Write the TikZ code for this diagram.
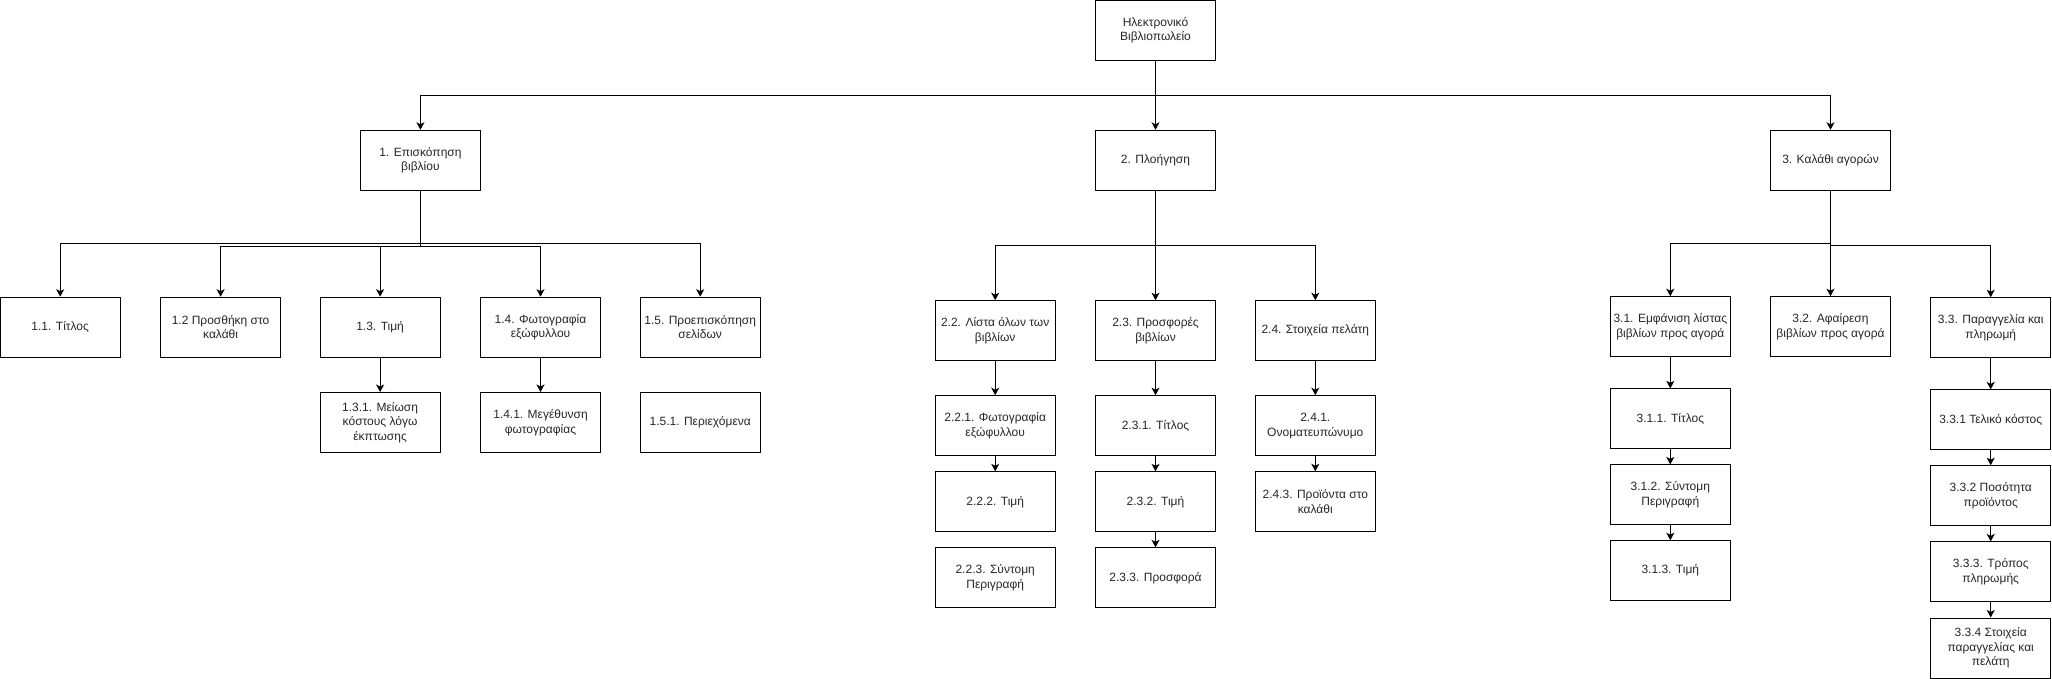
\documentclass[tikz,border=0pt]{standalone}
\usepackage{fontspec}
\setmainfont{Liberation Sans}
\usetikzlibrary{arrows.meta}
\tikzset{
  box/.style={draw=black, line width=1pt, minimum width=120pt, minimum height=60pt,
    inner sep=0pt, align=center, font=\fontsize{12}{14.6}\selectfont, text=black!85},
  conn/.style={draw=black, line width=1pt, -{Stealth[length=7.5pt,width=8pt,inset=2pt]}}
}
\begin{document}
\begin{tikzpicture}[x=1pt, y=-1pt]
\useasboundingbox (0,0) rectangle (2052,679);
% level 0 / 1
\node[box] (top) at (1155.5,30.4) {Ηλεκτρονικό\\Βιβλιοπωλείο};
\node[box] (b1) at (420.4,160.3) {1. Επισκόπηση\\βιβλίου};
\node[box] (b2) at (1155.5,160.3) {2. Πλοήγηση};
\node[box] (b3) at (1830.5,160.3) {3. Καλάθι αγορών};
% group 1
\node[box] (b11) at (60.2,327.2) {1.1. Τίτλος};
\node[box] (b12) at (220.6,327.2) {1.2 Προσθήκη στο\\καλάθι};
\node[box] (b13) at (380.1,327.2) {1.3. Τιμή};
\node[box] (b14) at (540.5,327.2) {1.4. Φωτογραφία\\εξώφυλλου};
\node[box] (b15) at (700.2,327.2) {1.5. Προεπισκόπηση\\σελίδων};
\node[box] (b131) at (380.1,422.5) {1.3.1. Μείωση\\κόστους λόγω\\έκπτωσης};
\node[box] (b141) at (540.5,422.5) {1.4.1. Μεγέθυνση\\φωτογραφίας};
\node[box] (b151) at (700.2,422.5) {1.5.1. Περιεχόμενα};
% group 2
\node[box] (b22) at (995.2,330.7) {2.2. Λίστα όλων των\\βιβλίων};
\node[box] (b23) at (1155.5,330.7) {2.3. Προσφορές\\βιβλίων};
\node[box] (b24) at (1315.3,330.7) {2.4. Στοιχεία πελάτη};
\node[box] (b221) at (995.2,425.7) {2.2.1. Φωτογραφία\\εξώφυλλου};
\node[box] (b222) at (995.2,501.8) {2.2.2. Τιμή};
\node[box] (b223) at (995.2,577.8) {2.2.3. Σύντομη\\Περιγραφή};
\node[box] (b231) at (1155.5,425.7) {2.3.1. Τίτλος};
\node[box] (b232) at (1155.5,501.8) {2.3.2. Τιμή};
\node[box] (b233) at (1155.5,577.8) {2.3.3. Προσφορά};
\node[box] (b241) at (1315.3,425.7) {2.4.1.\\Ονοματευπώνυμο};
\node[box] (b243) at (1315.3,501.8) {2.4.3. Προϊόντα στο\\καλάθι};
% group 3
\node[box] (b31) at (1670.3,326.7) {3.1. Εμφάνιση λίστας\\βιβλίων προς αγορά};
\node[box] (b32) at (1830.5,326.7) {3.2. Αφαίρεση\\βιβλίων προς αγορά};
\node[box] (b33) at (1990.7,327.7) {3.3. Παραγγελία και\\πληρωμή};
\node[box] (b311) at (1670.3,418.9) {3.1.1. Τίτλος};
\node[box] (b312) at (1670.3,494.9) {3.1.2. Σύντομη\\Περιγραφή};
\node[box] (b313) at (1670.3,570.7) {3.1.3. Τιμή};
\node[box] (b331) at (1990.7,419.9) {3.3.1 Τελικό κόστος};
\node[box] (b332) at (1990.7,495.7) {3.3.2 Ποσότητα\\προϊόντος};
\node[box] (b333) at (1990.7,571.9) {3.3.3. Τρόπος\\πληρωμής};
\node[box] (b334) at (1990.7,648.0) {3.3.4 Στοιχεία\\παραγγελίας και\\πελάτη};
% junctions
\coordinate (j0) at (1155.5,95.3);
\coordinate (j1a) at (420.4,243.0);
\coordinate (j1b) at (420.4,246.5);
\coordinate (j2) at (1155.5,245.3);
\coordinate (j3a) at (1830.5,243.3);
\coordinate (j3b) at (1830.5,245.7);
% top connectors
\draw[conn] (top.south) -- (j0) -| (b1.north);
\draw[conn] (top.south) -- (b2.north);
\draw[conn] (top.south) -- (j0) -| (b3.north);
% group 1
\draw[conn] (b1.south) -- (j1a) -| (b11.north);
\draw[conn] (b1.south) -- (j1a) -| (b15.north);
\draw[conn] (b1.south) -- (j1b) -| (b12.north);
\draw[conn] (b1.south) -- (j1b) -| (b13.north);
\draw[conn] (b1.south) -- (j1b) -| (b14.north);
\draw[conn] (b13.south) -- (b131.north);
\draw[conn] (b14.south) -- (b141.north);
% group 2
\draw[conn] (b2.south) -- (j2) -| (b22.north);
\draw[conn] (b2.south) -- (b23.north);
\draw[conn] (b2.south) -- (j2) -| (b24.north);
\draw[conn] (b22.south) -- (b221.north);
\draw[conn] (b221.south) -- (b222.north);
\draw[conn] (b23.south) -- (b231.north);
\draw[conn] (b231.south) -- (b232.north);
\draw[conn] (b232.south) -- (b233.north);
\draw[conn] (b24.south) -- (b241.north);
\draw[conn] (b241.south) -- (b243.north);
% group 3
\draw[conn] (b3.south) -- (j3a) -| (b31.north);
\draw[conn] (b3.south) -- (b32.north);
\draw[conn] (b3.south) -- (j3b) -| (b33.north);
\draw[conn] (b31.south) -- (b311.north);
\draw[conn] (b311.south) -- (b312.north);
\draw[conn] (b312.south) -- (b313.north);
\draw[conn] (b33.south) -- (b331.north);
\draw[conn] (b331.south) -- (b332.north);
\draw[conn] (b332.south) -- (b333.north);
\draw[conn] (b333.south) -- (b334.north);
\end{tikzpicture}
\end{document}
